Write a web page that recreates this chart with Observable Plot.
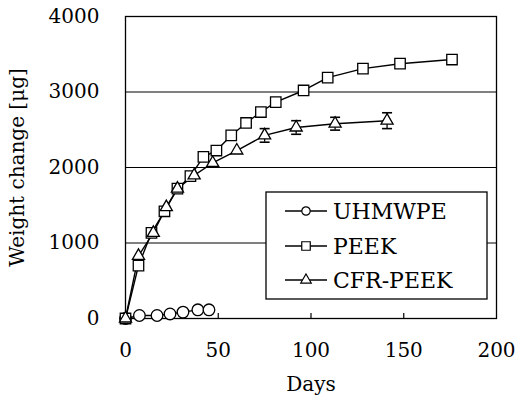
<!DOCTYPE html>
<html>
<head>
<meta charset="utf-8">
<script src="https://cdn.jsdelivr.net/npm/d3@7"></script>
<script src="https://cdn.jsdelivr.net/npm/@observablehq/plot@0.6"></script>
<style>
  html, body { margin: 0; padding: 0; background: #fff; }
  #chart { position: relative; width: 518px; height: 401px; }
</style>
</head>
<body>
<div id="chart"></div>
<script>
// Data
const uhmwpeDays = [0, 7.5, 17, 24, 31, 39, 45];
const uhmwpeWeight = [0, 40, 40, 60, 85, 115, 115];

const peekDays = [0, 7, 14, 21, 28, 35, 42, 49, 57, 65, 73, 81, 96, 109, 128, 148, 176];
const peekWeight = [0, 700, 1135, 1420, 1720, 1885, 2140, 2225, 2425, 2590, 2735, 2865, 3020, 3190, 3310, 3375, 3430];

const cfrDays = [0, 7, 15, 22, 28, 37, 47, 60, 75, 92, 113, 141];
const cfrWeight = [0, 830, 1135, 1475, 1720, 1895, 2060, 2225, 2425, 2530, 2580, 2620];
const cfrError = [0, 0, 0, 0, 0, 0, 0, 0, 90, 90, 85, 105];

const xTicks = [0, 50, 100, 150, 200];
const yTicks = [0, 1000, 2000, 3000, 4000];
const gridValues = [1000, 2000, 3000];
const innerTicks = [50, 100, 150];

const seriesNames = ["UHMWPE", "PEEK", "CFR-PEEK"];
const seriesSymbols = ["circle", "square", "triangle"];

const uhmwpe = uhmwpeDays.map((d, i) => ({x: d, y: uhmwpeWeight[i]}));
const peek = peekDays.map((d, i) => ({x: d, y: peekWeight[i]}));
const cfr = cfrDays.map((d, i) => ({x: d, y: cfrWeight[i], e: cfrError[i]}));
const cfrErr = cfr.filter(d => d.e > 0);

const capHalf = 2.7; // half cap width in days
const FONT = '"DejaVu Serif", "Liberation Serif", serif';

const plot = Plot.plot({
  width: 518,
  height: 401,
  marginLeft: 125,
  marginRight: 22,
  marginTop: 16,
  marginBottom: 83,
  style: {fontFamily: FONT, fontSize: "20px", color: "black", background: "white"},
  x: {domain: [0, 200]},
  y: {domain: [0, 4000]},
  marks: [
    Plot.gridY(gridValues, {stroke: "black", strokeOpacity: 1, strokeWidth: 1}),
    Plot.axisX(xTicks, {tickSize: 0, tickPadding: 24, fontSize: 20, tickFormat: d => String(d), label: null}),
    Plot.axisX({ticks: [], label: "Days", labelAnchor: "center", labelOffset: 72, labelArrow: "none", fontSize: 20, dx: 6, tickSize: 0}),
    Plot.tickX(innerTicks, {x: d => d, insetTop: 297, stroke: "black", strokeWidth: 1.2}),
    Plot.axisY(yTicks, {tickSize: 0, tickPadding: 26, fontSize: 20, tickFormat: d => String(d), label: "Weight change [μg]", labelAnchor: "center", labelOffset: 116, labelArrow: "none"}),
    Plot.frame({stroke: "black", strokeWidth: 1.3}),
    Plot.line(uhmwpe, {x: "x", y: "y", stroke: "black", strokeWidth: 1.4}),
    Plot.line(peek, {x: "x", y: "y", stroke: "black", strokeWidth: 1.4}),
    Plot.line(cfr, {x: "x", y: "y", stroke: "black", strokeWidth: 1.4}),
    Plot.ruleX(cfrErr, {x: "x", y1: d => d.y - d.e, y2: d => d.y + d.e, stroke: "black", strokeWidth: 1.3}),
    Plot.link(cfrErr, {x1: d => d.x - capHalf, x2: d => d.x + capHalf, y1: d => d.y + d.e, y2: d => d.y + d.e, stroke: "black", strokeWidth: 1.6}),
    Plot.link(cfrErr, {x1: d => d.x - capHalf, x2: d => d.x + capHalf, y1: d => d.y - d.e, y2: d => d.y - d.e, stroke: "black", strokeWidth: 1.6}),
    Plot.dot(uhmwpe, {x: "x", y: "y", symbol: "circle", r: 5.8, fill: "white", stroke: "black", strokeWidth: 1.3}),
    Plot.dot(peek, {x: "x", y: "y", symbol: "square", r: 5.9, fill: "white", stroke: "black", strokeWidth: 1.3}),
    Plot.dot(cfr, {x: "x", y: "y", symbol: "triangle", r: 4.5, fill: "white", stroke: "black", strokeWidth: 1.3})
  ]
});

document.getElementById("chart").appendChild(plot);

// Legend drawn inside the plot area (lower right)
const svg = d3.select(plot);
const lg = svg.append("g").attr("class", "legend").attr("text-anchor", "start");
const box = {x: 266, y: 192, w: 221, h: 107};
lg.append("rect").attr("x", box.x).attr("y", box.y).attr("width", box.w).attr("height", box.h)
  .attr("fill", "white").attr("stroke", "black").attr("stroke-width", 1.3);
const rowY = [211, 246, 280];
const symR = [4.2, 4.8, 3.9];
seriesNames.forEach((name, i) => {
  const y = rowY[i];
  lg.append("line").attr("x1", 285).attr("x2", 327).attr("y1", y).attr("y2", y)
    .attr("stroke", "black").attr("stroke-width", 1.3);
  const sym = {circle: d3.symbolCircle, square: d3.symbolSquare, triangle: d3.symbolTriangle}[seriesSymbols[i]];
  lg.append("path").attr("transform", `translate(306,${y})`)
    .attr("d", d3.symbol(sym, Math.PI * symR[i] * symR[i])())
    .attr("fill", "white").attr("stroke", "black").attr("stroke-width", 1.2);
  lg.append("text").attr("x", 333).attr("y", y).attr("dy", "0.36em")
    .attr("text-anchor", "start").attr("font-size", 22).attr("fill", "black").text(name);
});

// Force the serif face on every text element
svg.selectAll("text").style("font-family", FONT);
</script>
</body>
</html>
